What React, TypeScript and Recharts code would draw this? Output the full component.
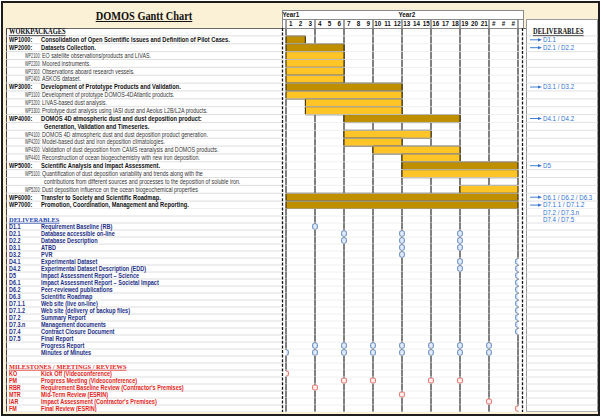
import React from 'react';
import { BarChart, Bar, Cell, XAxis, YAxis, CartesianGrid, ScatterChart, Scatter } from 'recharts';

const SANS = '"Liberation Sans", Arial, sans-serif';
const SERIF = '"Liberation Serif", "Times New Roman", serif';

const DARK = '#BF8F00';
const LIGHT = '#FFC425';
const NAVY = '#1D2F86';
const RED = '#E2231A';
const NOTE = '#2F72D0';
const GRID = '#808080';

const TOP_H = 181; // plot height of the work-package block
const LOW_H = 203; // plot height of the deliverables / milestones block
const ROW_A = TOP_H / 23;
const ROW_B = 7;
const COL = 232 / 24;

// timeline header
const monthLabels = ['1', '2', '3', '4', '5', '6', '7', '8', '9', '10', '11', '12', '13', '14', '15', '16', '17', '18', '19', '20', '21', '#', '#', '#'];
const yearLabels: Record<number, string> = { 0: 'Year1', 12: 'Year2' };
const monthTicks = monthLabels.map((_, i) => i + 0.5);
const quarterTicks = [0, 3, 6, 9, 12, 15, 18, 21, 24];

// work packages
const wpCodes = ['WORKPACKAGES', 'WP1000:', 'WP2000:', 'WP2100:', 'WP2200:', 'WP2300:', 'WP2400:', 'WP3000:', 'WP3100:', 'WP3200:', 'WP3300:', 'WP4000:', '', 'WP4100:', 'WP4200:', 'WP4300:', 'WP4400:', 'WP5000:', 'WP5100:', '', 'WP5200:', 'WP6000:', 'WP7000:'];
const wpTitles = [
  '',
  'Consolidation of Open Scientific Issues and Definition of Pilot Cases.',
  'Datasets Collection.',
  'EO satellite observations/products and LIVAS.',
  'Moored instruments.',
  'Observations aboard research vessels.',
  'ASKOS dataset.',
  'Development of Prototype Products and Validation.',
  'Development of prototype DOMOS-4DAtlantic products.',
  'LIVAS-based dust analysis.',
  'Prototype dust analysis using IASI dust and Aeolus L2B/L2A products.',
  'DOMOS 4D atmospheric dust and dust deposition product:',
  'Generation, Validation and Timeseries.',
  'DOMOS 4D atmospheric dust and dust deposition product generation.',
  'Model-based dust and iron deposition climatologies.',
  'Validation of dust deposition from CAMS reanalysis and DOMOS products.',
  'Reconstruction of ocean biogeochemistry with new iron deposition.',
  'Scientific Analysis and Impact Assessment.',
  'Quantification of dust deposition variability and trends along with the',
  'contributions from different sources and processes to the deposition of soluble iron.',
  'Dust deposition influence on the ocean biogeochemical properties',
  'Transfer to Society and Scientific Roadmap.',
  'Promotion, Coordination, Management and Reporting.',
];
const wpLevels = ['head', 'main', 'main', 'sub', 'sub', 'sub', 'sub', 'main', 'sub', 'sub', 'sub', 'main', 'main', 'sub', 'sub', 'sub', 'sub', 'main', 'sub', 'sub', 'sub', 'main', 'main'];
const wpStart = [null, 0, 0, 0, 0, 0, 0, 0, 0, 2, 2, 6, null, 6, 6, 9, 12, 12, 12, null, 18, 0, 0];
const wpEnd = [null, 2, 6, 6, 6, 6, 6, 12, 12, 12, 12, 18, null, 15, 12, 18, 18, 24, 24, null, 24, 24, 24];
const wpOutputs = ['DELIVERABLES', 'D1.1', 'D2.1 / D2.2', '', '', '', '', 'D3.1 / D3.2', '', '', '', 'D4.1 / D4.2', '', '', '', '', '', 'D5', '', '', '', 'D6.1 / D6.2 / D6.3', 'D7.1.1 / D7.1.2'];

// deliverables and milestones
const lowCodes = ['', 'DELIVERABLES', 'D1.1', 'D2.1', 'D2.2', 'D3.1', 'D3.2', 'D4.1', 'D4.2', 'D5', 'D6.1', 'D6.2', 'D6.3', 'D7.1.1', 'D7.1.2', 'D7.2', 'D7.3.n', 'D7.4', 'D7.5', '', '', '', 'MILESTONES / MEETINGS / REVIEWS', 'KO', 'PM', 'RBR', 'MTR', 'IAR', 'FM'];
const lowTitles = [
  '', '',
  'Requirement Baseline (RB)',
  'Database accessible on-line',
  'Database Description',
  'ATBD',
  'PVR',
  'Experimental Dataset',
  'Experimental Dataset Description (EDD)',
  'Impact Assessment Report \u2013 Science',
  'Impact Assessment Report \u2013 Societal Impact',
  'Peer-reviewed publications',
  'Scientific Roadmap',
  'Web site (live on-line)',
  'Web site (delivery of backup files)',
  'Summary Report',
  'Management documents',
  'Contract Closure Document',
  'Final Report',
  'Progress Report',
  'Minutes of Minutes',
  '', '',
  'Kick Off (Videoconference)',
  'Progress Meeting (Videoconference)',
  "Requirement Baseline Review (Contractor's Premises)",
  'Mid-Term Review (ESRIN)',
  "Impact Assessment (Contractor's Premises)",
  'Final Review (ESRIN)',
];
const lowKinds = ['blank', 'dhead', 'del', 'del', 'del', 'del', 'del', 'del', 'del', 'del', 'del', 'del', 'del', 'del', 'del', 'del', 'del', 'del', 'del', 'del', 'del', 'blank', 'mhead', 'ms', 'ms', 'ms', 'ms', 'ms', 'ms'];
const lowMonths: number[][] = [
  [], [],
  [3],
  [6, 12, 18],
  [6, 12, 18],
  [12, 18],
  [12],
  [18, 24],
  [18, 24],
  [24], [24], [24], [24], [24], [24], [24], [24], [24],
  [],
  [3, 6, 9, 12, 15, 18, 21],
  [0, 3, 6, 9, 12, 15, 18, 21],
  [], [],
  [0],
  [6, 9, 15, 18],
  [3],
  [12],
  [21],
  [24],
];
const lowOutputs = ['D7.2 / D7.3.n', 'D7.4 / D7.5'];

const topData = wpCodes.map((_, i) => ({
  id: i,
  span: wpStart[i] == null ? null : [wpStart[i], wpEnd[i]],
}));
const lowRows = lowCodes.map((_, i) => i);
const lowDomain = [-0.5, lowRows.length - 0.5];
const lowPoints = lowMonths.flatMap((ms, row) => ms.map((m) => ({ row, m })));
const blueMarks = lowPoints.filter((p) => lowKinds[p.row] === 'del');
const redMarks = lowPoints.filter((p) => lowKinds[p.row] === 'ms');

function T({ x, y, sx = 1, size, bold = false, serif = false, color = '#111', underline = false, anchor = 'start', children }: any) {
  return (
    <text
      transform={`translate(${x} ${y}) scale(${sx} 1)`}
      fontSize={size}
      fontWeight={bold ? 700 : 400}
      fontFamily={serif ? SERIF : SANS}
      fill={color}
      textDecoration={underline ? 'underline' : undefined}
      textAnchor={anchor}
    >
      {children}
    </text>
  );
}

function RowLines({ y }: { y: number }) {
  return (
    <g>
      <line x1={6} x2={282} y1={y} y2={y} stroke="#d6d6d6" strokeWidth={0.8} />
      <line x1={282} x2={526} y1={y} y2={y} stroke="#ececec" strokeWidth={0.8} />
      <line x1={526} x2={598} y1={y} y2={y} stroke="#dadada" strokeWidth={0.8} />
    </g>
  );
}

const MonthTick = (props: any) => {
  const { x, y, payload } = props;
  const k = Math.floor(payload.value);
  return (
    <g>
      <T x={x} y={y - 2.2} size={6.3} bold anchor="middle">{monthLabels[k]}</T>
      {k % 3 === 0 && <line x1={x - COL / 2} x2={x - COL / 2} y1={y - 9} y2={y} stroke="#8a8a8a" strokeWidth={1.6} />}
      {k === monthLabels.length - 1 && <line x1={x + COL / 2} x2={x + COL / 2} y1={y - 9} y2={y} stroke="#8a8a8a" strokeWidth={1.6} />}
      {yearLabels[k] && <T x={x - COL / 2 - 3.5} y={y - 11} size={6.3} bold>{yearLabels[k]}</T>}
    </g>
  );
};

const LeftTopTick = (props: any) => {
  const { y, payload } = props;
  const i = payload.value;
  const lvl = wpLevels[i];
  const code = wpCodes[i];
  const b = y + 2.4;
  return (
    <g>
      <RowLines y={y + ROW_A / 2} />
      {lvl === 'head' && <T x={9} y={b} size={7.2} sx={0.9} bold serif underline>{code}</T>}
      {lvl === 'main' && code && <T x={9} y={b} size={7} sx={0.8} bold>{code}</T>}
      {lvl === 'main' && <T x={code ? 41 : 44} y={b} size={7} sx={0.82} bold>{wpTitles[i]}</T>}
      {lvl === 'sub' && code && <T x={25} y={b - 0.1} size={6.3} sx={0.6} color="#333">{code}</T>}
      {lvl === 'sub' && <T x={code ? 42 : 44} y={b - 0.1} size={6.3} sx={0.85} color="#333">{wpTitles[i]}</T>}
    </g>
  );
};

const Arrow = ({ y }: { y: number }) => (
  <g>
    <line x1={530} x2={539} y1={y} y2={y} stroke={NOTE} strokeWidth={0.9} />
    <polygon points={`${538},${y - 1.6} ${542},${y} ${538},${y + 1.6}`} fill={NOTE} />
  </g>
);

const RightTopTick = (props: any) => {
  const { y, payload } = props;
  const i = payload.value;
  const out = wpOutputs[i];
  if (!out) return <g />;
  if (i === 0) {
    return <T x={533} y={y + 2.4} size={7.2} sx={0.9} bold serif underline>{out}</T>;
  }
  return (
    <g>
      <Arrow y={y} />
      <T x={543} y={y + 2.4} size={7} sx={0.88} color={NOTE}>{out}</T>
    </g>
  );
};

// each lower row draws its own piece of the quarter rules (x = plot left),
// leaving room where that row carries a marker
function RowRules({ x, y, marks }: { x: number; y: number; marks: number[] }) {
  const h = ROW_B / 2;
  return (
    <g>
      {quarterTicks.map((m) =>
        marks.includes(m) ? (
          <g key={m}>
            <line x1={x + m * COL} x2={x + m * COL} y1={y - h} y2={y - 2.8} stroke={GRID} strokeWidth={2} />
            <line x1={x + m * COL} x2={x + m * COL} y1={y + 2.8} y2={y + h} stroke={GRID} strokeWidth={2} />
          </g>
        ) : (
          <line key={m} x1={x + m * COL} x2={x + m * COL} y1={y - h} y2={y + h} stroke={GRID} strokeWidth={2} />
        ),
      )}
    </g>
  );
}

const LeftLowTick = (props: any) => {
  const { x, y, payload } = props;
  const i = payload.value;
  const kind = lowKinds[i];
  const b = y + 2.3;
  const color = kind === 'mhead' || kind === 'ms' ? RED : NAVY;
  return (
    <g>
      <RowRules x={x} y={y} marks={lowMonths[i]} />
      <RowLines y={y + ROW_B / 2} />
      {(kind === 'dhead' || kind === 'mhead') && (
        <T x={9} y={b} size={7} sx={0.92} bold serif underline color={kind === 'dhead' ? '#1F45B0' : RED}>{lowCodes[i]}</T>
      )}
      {(kind === 'del' || kind === 'ms') && lowCodes[i] && <T x={9} y={b} size={6.6} sx={0.82} bold color={color}>{lowCodes[i]}</T>}
      {(kind === 'del' || kind === 'ms') && <T x={41} y={b} size={6.6} sx={0.84} bold color={color}>{lowTitles[i]}</T>}
    </g>
  );
};

const RightLowTick = (props: any) => {
  const { y, payload } = props;
  const out = lowOutputs[payload.value];
  if (!out) return <g />;
  return <T x={543} y={y + 2.4} size={7} sx={0.88} color={NOTE}>{out}</T>;
};

const BlueMark = (p: any) => (
  <rect x={p.cx - 2.3} y={p.cy - 2.8} width={4.6} height={5.6} rx={1.6} fill="#E4ECF8" stroke="#4F7FC0" strokeWidth={1} />
);
const RedMark = (p: any) => (
  <rect x={p.cx - 2.4} y={p.cy - 2.5} width={4.8} height={5} rx={1.2} fill="#FFF1EF" stroke="#E8645A" strokeWidth={1} />
);

const box = (s: React.CSSProperties): React.CSSProperties => ({ position: 'absolute', boxSizing: 'border-box', ...s });

export default function App() {
  return (
    <div style={{ position: 'fixed', left: 0, top: 0, width: 602, height: 420, background: '#fff', overflow: 'hidden' }}>
      <div style={box({ left: 1, top: 1, width: 599, height: 415, border: '2px solid #1d1d1d', background: '#FBF1D6' })} />
      <div style={box({ left: 6, top: 28, width: 520, height: 384, background: '#fff', borderTop: '1px solid #6a6a6a', borderLeft: '1px solid #444' })} />
      <div style={box({ left: 526, top: 19, width: 72, height: 393, background: '#fff', border: '1px solid #9a9a9a' })} />
      <div style={box({ left: 282, top: 10, width: 242, height: 19, background: '#fff', border: '1px solid #8a8a8a' })} />
      <div style={box({ left: 282, top: 19, width: 242, height: 1, background: '#8a8a8a' })} />
      <div
        style={box({
          left: 6, top: 9, width: 276, height: 14, lineHeight: '14px', textAlign: 'center',
          fontFamily: SERIF, fontWeight: 700, fontSize: 11.5, textDecoration: 'underline', color: '#111',
          transform: 'scaleX(0.9)',
        })}
      >
        DOMOS Gantt Chart
      </div>

      <div style={{ position: 'absolute', left: 0, top: 10 }}>
        <BarChart width={602} height={18 + TOP_H} data={topData} layout="vertical" margin={{ top: 0, right: 0, bottom: 0, left: 0 }} barCategoryGap={0}>
          <CartesianGrid horizontal={false} stroke={GRID} strokeWidth={2} />
          <XAxis type="number" domain={[0, 24]} ticks={quarterTicks} allowDataOverflow hide />
          <XAxis
            xAxisId="m" type="number" orientation="top" domain={[0, 24]} ticks={monthTicks} interval={0} allowDataOverflow
            height={18} tickSize={0} tickMargin={0} axisLine={false} tickLine={false} tick={MonthTick}
          />
          <YAxis type="category" dataKey="id" width={286} interval={0} tickSize={0} tickMargin={0} axisLine={false} tickLine={false} tick={LeftTopTick} />
          <YAxis yAxisId="r" orientation="right" type="category" dataKey="id" width={84} interval={0} tickSize={0} tickMargin={0} axisLine={false} tickLine={false} tick={RightTopTick} />
          <Bar dataKey="span" isAnimationActive={false} stroke="#2a2000" strokeWidth={1}>
            {topData.map((_, i) => (
              <Cell key={i} fill={wpLevels[i] === 'main' ? DARK : LIGHT} />
            ))}
          </Bar>
        </BarChart>
      </div>

      <div style={{ position: 'absolute', left: 0, top: 209 }}>
        <ScatterChart width={602} height={LOW_H} margin={{ top: 0, right: 0, bottom: 0, left: 0 }}>
          <XAxis type="number" dataKey="m" domain={[0, 24]} ticks={quarterTicks} allowDataOverflow hide />
          <YAxis
            type="number" dataKey="row" domain={lowDomain} allowDataOverflow reversed ticks={lowRows} interval={0}
            width={286} tickSize={0} tickMargin={0} axisLine={false} tickLine={false} tick={LeftLowTick}
          />
          <YAxis
            yAxisId="r" orientation="right" type="number" dataKey="row" domain={lowDomain} allowDataOverflow reversed ticks={lowRows} interval={0}
            width={84} tickSize={0} tickMargin={0} axisLine={false} tickLine={false} tick={RightLowTick}
          />
          <Scatter data={blueMarks} isAnimationActive={false} shape={BlueMark} />
          <Scatter data={redMarks} isAnimationActive={false} shape={RedMark} />
        </ScatterChart>
      </div>

      <svg width={602} height={420} style={{ position: 'absolute', left: 0, top: 0, pointerEvents: 'none' }}>
        <line x1={282.5} x2={282.5} y1={28} y2={412} stroke="#151515" strokeWidth={1.3} strokeDasharray="3 1.6" />
        <line x1={522.5} x2={522.5} y1={28} y2={412} stroke="#151515" strokeWidth={1.3} strokeDasharray="3 1.6" />
      </svg>
    </div>
  );
}
